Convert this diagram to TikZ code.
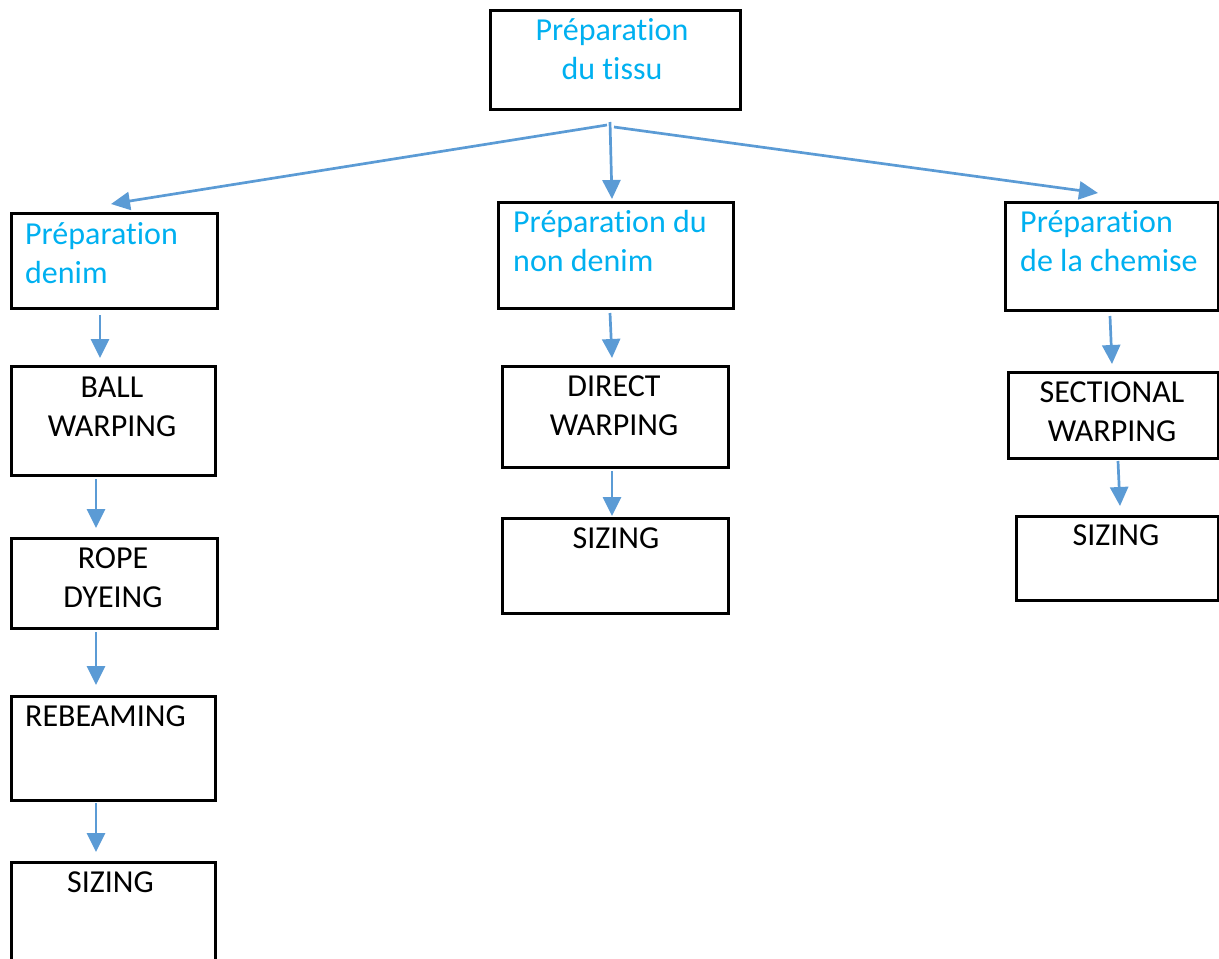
\documentclass[tikz,border=0pt]{standalone}
\usepackage{fontspec}
\setmainfont[Ligatures={NoCommon}]{Carlito}
\usetikzlibrary{arrows.meta}
\definecolor{txtblue}{HTML}{00B0F0}
\definecolor{arrblue}{HTML}{5B9BD5}
\newcommand{\prepword}{Préparat\kern0pt ion}
\begin{document}
\begin{tikzpicture}[x=1pt,y=-1pt,
 box/.style={draw=black,line width=2.6pt,inner sep=0pt,anchor=north west},
 lbl/.style={inner sep=0pt,font=\fontsize{32}{39}\selectfont,anchor=base},
 lblw/.style={lbl,anchor=base west,align=left},
 lblc/.style={lbl,align=center},
 blue/.style={text=txtblue},
 arr/.style={draw=arrblue,line width=2.7pt,-{Triangle[length=19pt,width=18pt]}}]
\useasboundingbox (0,0) rectangle (1219,959);
\clip (0,0) rectangle (1219,959);
% boxes
\node[box,minimum width=250pt,minimum height=99pt] (top) at (489,9) {};
\node[box,minimum width=206pt,minimum height=95pt] (denim) at (10,212) {};
\node[box,minimum width=235pt,minimum height=106pt] (nond) at (497,201) {};
\node[box,minimum width=213pt,minimum height=108pt] (chem) at (1004,201) {};
\node[box,minimum width=204pt,minimum height=109pt] (ball) at (10,365) {};
\node[box,minimum width=206pt,minimum height=90pt] (rope) at (10,537) {};
\node[box,minimum width=204pt,minimum height=104pt] (rebeam) at (10,695) {};
\node[box,minimum width=204pt,minimum height=130pt] (sizA) at (10,861) {};
\node[box,minimum width=226pt,minimum height=101pt] (direct) at (501,365) {};
\node[box,minimum width=226pt,minimum height=95pt] (sizB) at (501,517) {};
\node[box,minimum width=210pt,minimum height=86pt] (sect) at (1007,371) {};
\node[box,minimum width=202pt,minimum height=84pt] (sizC) at (1015,515) {};
% texts (base anchor = baseline of last line)
\node[lblc,blue] (ttop) at (612,79) {\prepword\\du tissu};
\node[lblw,blue] (tdenim) at (25,283) {\prepword\\denim};
\node[lblw,blue] (tnond) at (513,271) {\prepword{} du\\non denim};
\node[lblw,blue] (tchem) at (1020,271) {\prepword\\de la chemise};
\node[lblc] (tball) at (112,436) {BALL\\WARPING};
\node[lblc] (trope) at (113,607) {ROPE\\DYEING};
\node[lblw] (trebeam) at (25,726) {REBEAMING};
\node[lbl] (tsizA) at (110.5,892) {SIZING};
\node[lblc] (tdirect) at (614,435) {DIRECT\\WARPING};
\node[lbl] (tsizB) at (616,548) {SIZING};
\node[lblc] (tsect) at (1112,441) {SECTIONAL\\WARPING};
\node[lbl] (tsizC) at (1116,545) {SIZING};
% connector ends
\coordinate (s1) at (607,125); \coordinate (e1) at (111,204);
\coordinate (s2) at (610,122); \coordinate (e2) at (612,199);
\coordinate (s3) at (614,127); \coordinate (e3) at (1098,193);
\coordinate (s4) at (100,315); \coordinate (e4) at (100,358);
\coordinate (s5) at (96,479);  \coordinate (e5) at (96,528);
\coordinate (s6) at (96,632);  \coordinate (e6) at (96,685);
\coordinate (s7) at (96,803);  \coordinate (e7) at (96,852);
\coordinate (s8) at (610,313); \coordinate (e8) at (612,358);
\coordinate (s9) at (612,471); \coordinate (e9) at (612,516);
\coordinate (s10) at (1110,316); \coordinate (e10) at (1112,364);
\coordinate (s11) at (1118,461); \coordinate (e11) at (1120,506);
\foreach \i in {1,...,11} {\draw[arr] (s\i) -- (e\i);}
\end{tikzpicture}
\end{document}
